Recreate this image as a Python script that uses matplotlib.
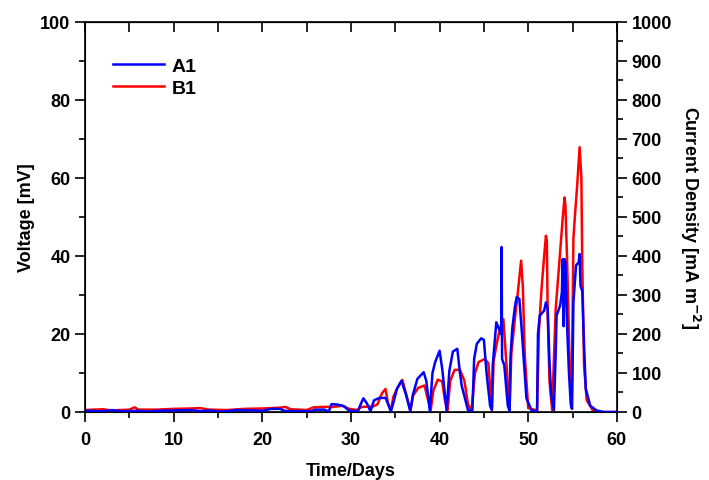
import matplotlib
matplotlib.use("Agg")
import matplotlib.pyplot as plt
from matplotlib.ticker import MultipleLocator

# A1 (blue) voltage trace, days / mV
a1_days = [0, 2, 3, 4, 6, 7, 8, 10, 12, 13, 14, 15, 16, 17, 19, 20, 21, 22, 22.5, 24,
           25.5, 26, 27, 27.5, 27.8, 28.5, 29.2, 29.8, 30.8, 31.0, 31.4, 31.8, 32.2,
           32.6, 33.2, 33.9, 34.2, 34.5, 34.8, 35.2, 35.7, 36.2, 36.7, 37.0, 37.5,
           38.2, 38.5, 38.9, 39.2, 39.5, 40.0, 40.3, 40.8, 41.1, 41.5, 42.0, 42.3,
           42.5, 43.2, 43.7, 43.9, 44.2, 44.7, 45.0, 45.3, 45.7, 45.9, 46.0, 46.4,
           46.7, 46.95, 47.0, 47.05, 47.3, 47.7, 47.9, 48.0, 48.2, 48.5, 48.7, 49.0,
           49.3, 49.8, 50.4, 51.0, 51.1, 51.3, 51.8, 52.0, 52.2, 52.4, 52.6, 52.9,
           53.1, 53.2, 53.6, 53.8, 53.9, 54.0, 54.1, 54.2, 54.4, 54.6, 54.8, 54.95,
           55.1, 55.4, 55.7, 55.8, 55.9, 56.1, 56.3, 56.5, 57.0, 57.7, 58.5, 60]
a1_mv = [0.3, 0.2, 0.5, 0.2, 0.3, 0.1, 0.3, 0.4, 0.5, 0.2, 0.4, 0.1, 0.2, 0.5, 0.4, 0.3,
         0.8, 0.8, 0.3, 0.2, 0.2, 0.6, 0.6, 0.1, 2.0, 1.9, 1.5, 0.3, 0.2, 1.5, 3.5, 2.2,
         0.2, 3.0, 3.6, 3.6, 2.0, 0.1, 2.5, 6.0, 8.0, 4.5, 0.2, 4.5, 8.5, 10.2, 8.0,
         0.3, 10.0, 12.8, 15.7, 11.0, 0.2, 10.5, 15.5, 16.2, 10.0, 6.7, 0.5, 0.3, 13.6,
         17.5, 18.9, 18.5, 10.0, 1.6, 0.6, 12.0, 23.0, 21.3, 20.0, 42.3, 13.6, 12.0,
         1.6, 0.3, 14.0, 21.3, 27.0, 29.5, 29.0, 20.0, 3.5, 0.3, 0.2, 20.0, 24.7, 26.0,
         28.1, 26.5, 12.7, 4.2, 0.5, 15.0, 24.7, 27.3, 30.7, 39.2, 22.0, 39.2, 38.4,
         21.3, 10.0, 2.0, 0.8, 28.1, 37.6, 38.4, 40.5, 32.4, 31.0, 17.0, 5.9, 1.6, 0.4,
         0.0, 0.0]

# B1 (red) voltage trace
b1_days = [0, 2, 3, 5, 5.6, 6, 8, 10, 12, 13, 14, 16, 18, 20, 21, 22, 22.6, 23.2, 25,
           25.8, 27, 28, 29, 29.8, 30.7, 31.2, 32.5, 33.0, 33.5, 33.9, 34.2, 34.5,
           34.8, 35.2, 35.8, 36.3, 36.7, 37.0, 37.6, 38.3, 38.6, 39.0, 39.3, 39.8,
           40.3, 40.6, 40.9, 41.2, 41.7, 42.3, 42.8, 43.2, 43.6, 44.0, 44.4, 45.1,
           45.5, 45.9, 46.1, 46.4, 46.8, 47.2, 47.5, 47.9, 48.1, 48.5, 48.8, 49.2,
           49.4, 49.6, 50.0, 51.0, 51.2, 51.5, 51.8, 52.0, 52.1, 52.2, 52.4, 52.7,
           53.1, 53.5, 53.9, 54.1, 54.2, 54.4, 54.7, 54.9, 55.1, 55.3, 55.5, 55.8,
           56.0, 56.1, 56.3, 56.6, 57.3, 58, 60]
b1_mv = [0.5, 0.7, 0.4, 0.6, 1.2, 0.6, 0.6, 0.8, 0.9, 1.0, 0.6, 0.5, 0.8, 0.9, 1.0, 1.1,
         1.3, 0.7, 0.5, 1.2, 1.3, 1.3, 1.6, 0.8, 0.5, 1.3, 1.4, 2.0, 4.8, 5.9, 2.0, 0.5,
         4.0, 6.0, 8.2, 4.0, 0.3, 4.2, 6.2, 6.8, 4.0, 0.5, 5.5, 8.3, 7.8, 3.0, 0.3, 8.0,
         10.8, 10.8, 8.0, 2.0, 0.3, 10.0, 12.8, 13.6, 12.5, 0.5, 13.0, 17.0, 21.3, 23.8,
         13.6, 1.0, 15.0, 24.0, 30.0, 38.8, 32.0, 15.0, 1.0, 0.4, 20.4, 31.5, 40.0, 45.2,
         44.0, 25.0, 8.0, 0.5, 26.4, 38.0, 49.9, 55.0, 53.0, 38.0, 10.0, 1.0, 44.4, 51.2,
         57.2, 67.9, 60.0, 38.0, 12.0, 3.0, 0.4, 0.0, 0.0]

x_ticks = [0, 10, 20, 30, 40, 50, 60]
volt_ticks = [0, 20, 40, 60, 80, 100]
cd_ticks = list(range(0, 1001, 100))

plt.rcParams["font.family"] = ["Liberation Sans", "DejaVu Sans"]
plt.rcParams["font.weight"] = "bold"
plt.rcParams["font.size"] = 13

fig = plt.figure(figsize=(7.09, 4.81), dpi=100)
ax = fig.add_axes([0.12, 0.1414, 0.75, 0.8108])

ax.plot(b1_days, b1_mv, color="#ff0000", lw=1.8, label="B1", zorder=2)
ax.plot(a1_days, a1_mv, color="#0000ff", lw=1.8, label="A1", zorder=3)

ax.set_xlim(0, 60)
ax.set_ylim(0, 100)
ax.set_xticks(x_ticks)
ax.set_yticks(volt_ticks)
ax.xaxis.set_minor_locator(MultipleLocator(5))
ax.yaxis.set_minor_locator(MultipleLocator(10))
ax.tick_params(which="major", direction="out", length=7, width=1.2, labelsize=13)
ax.tick_params(axis="x", which="major", pad=7)
ax.tick_params(which="minor", direction="out", length=4, width=1.2)
for sp in ax.spines.values():
    sp.set_linewidth(1.2)

ax.set_ylabel("Voltage [mV]", fontsize=13, fontweight="bold")
ax.set_xlabel("Time/Days", fontsize=13, fontweight="bold")
ax.xaxis.set_label_coords(0.5, -0.128)

# top axis: inward ticks, no labels
top = ax.secondary_xaxis("top")
top.set_xticks(x_ticks)
top.xaxis.set_minor_locator(MultipleLocator(5))
top.tick_params(which="both", direction="in", length=7, width=1.2, labeltop=False)

# right axis: current density
ax2 = ax.twinx()
ax2.set_ylim(0, 1000)
ax2.set_yticks(cd_ticks)
ax2.yaxis.set_minor_locator(MultipleLocator(50))
ax2.tick_params(which="major", direction="out", length=7, width=1.2, labelsize=13)
ax2.tick_params(which="minor", direction="out", length=4, width=1.2)
ax2.set_ylabel("Current Density [mA m$^{\\mathbf{-2}}$]", rotation=270,
               labelpad=22, fontsize=13, fontweight="bold")

handles, labels = ax.get_legend_handles_labels()
ax.legend(handles[::-1], labels[::-1], loc="upper left", frameon=False,
          fontsize=14, handlelength=2.6, handletextpad=0.4, borderaxespad=0.9,
          labelspacing=0.25, bbox_to_anchor=(0.005, 0.975))

fig.savefig("out.png", dpi=100)
